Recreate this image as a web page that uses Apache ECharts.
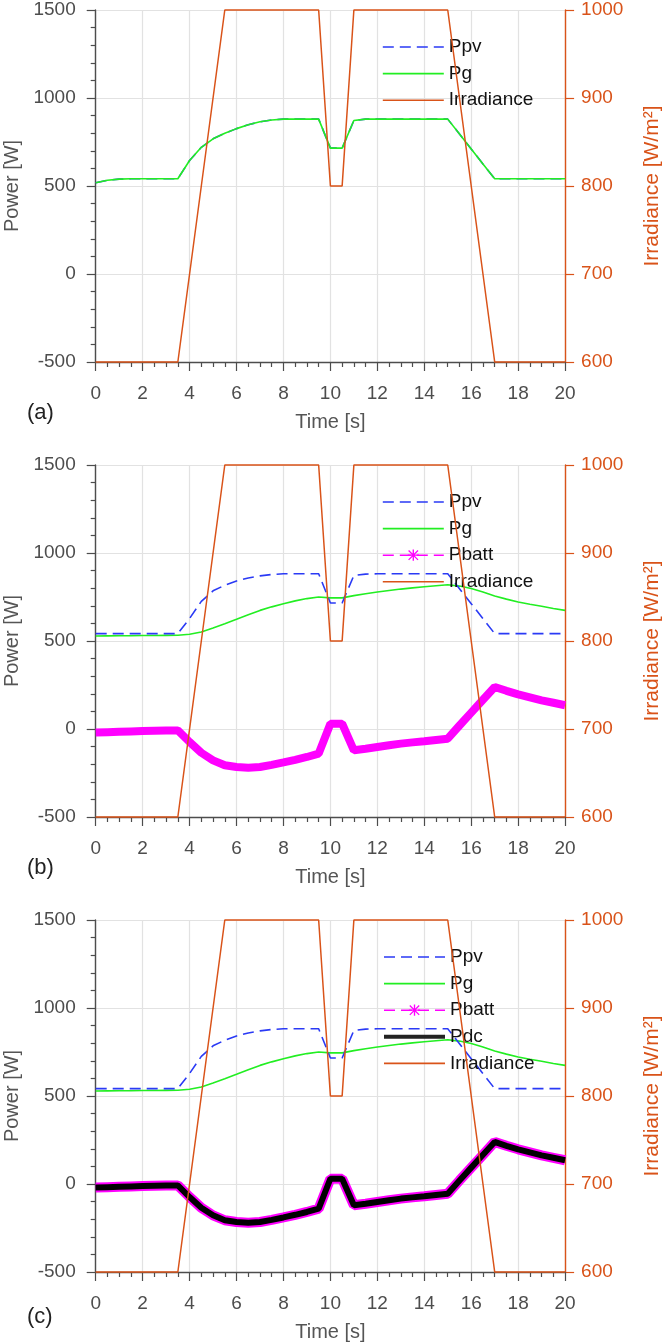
<!DOCTYPE html>
<html><head><meta charset="utf-8">
<script src="https://cdn.jsdelivr.net/npm/echarts@6/dist/echarts.min.js"></script>
<style>html,body{margin:0;padding:0;background:#fff}#c{width:669px;height:1344px}</style>
</head><body><div id="c"></div>
<script>
// ---- data ----
const time = [0,0.5,1,1.5,2,2.5,3,3.5,4,4.5,5,5.5,6,6.5,7,7.5,8,8.5,9,9.5,10,10.5,11,11.5,12,12.5,13,13.5,14,14.5,15,15.5,16,16.5,17,17.5,18,18.5,19,19.5,20];
const irradiance = [600,600,600,600,600,600,600,600,700,800,900,1000,1000,1000,1000,1000,1000,1000,1000,1000,800,800,1000,1000,1000,1000,1000,1000,1000,1000,1000,900,800,700,600,600,600,600,600,600,600];
// panel (a)
const pPvA = [518,533,539,541,541,541,541,541,645,720,768,800,826,848,865,875,880,880,880,880,715,715,872,880,880,880,880,880,880,880,880,795,710,625,541,541,541,541,541,541,541];
const pGA  = [518,533,539,541,541,541,541,541,645,720,768,800,826,848,865,875,880,880,880,880,715,715,872,880,880,880,880,880,880,880,880,795,710,625,541,541,541,541,541,541,541];
// panels (b) and (c)
const pPv  = [542,542,542,542,542,542,542,542,628,725,785,817,841,858,870,878,882,882,882,882,716,716,872,880,882,882,882,882,882,882,882,797,712,627,542,542,542,542,542,542,542];
const pG   = [528,529,530,530,531,531,532,533,538,551,574,598,623,649,674,694,712,728,741,750,745,745,758,768,778,787,795,802,808,814,820,812,798,778,756,738,722,709,697,685,674];
const pBatt= [-20,-18,-16,-14,-12,-10,-9,-8,-74,-135,-178,-206,-216,-220,-216,-204,-190,-175,-159,-140,30,30,-121,-112,-102,-92,-83,-76,-70,-62,-55,20,93,166,239,217,197,180,163,149,135];
const pDc  = [-20,-18,-16,-14,-12,-10,-9,-8,-74,-135,-178,-206,-216,-220,-216,-204,-190,-175,-159,-140,30,30,-121,-112,-102,-92,-83,-76,-70,-62,-55,20,93,166,239,217,197,180,163,149,135];
const powerTicks = [-500, 1500, 500];
const irrTicks = [600, 1000, 100];
const panelLabels = ['(a)','(b)','(c)'];

// ---- style ----
const FONT = 'Liberation Sans, Arial, sans-serif';
const ORANGE = '#D95319', BLUE = '#2a3af5', GREEN = '#22ee22', MAG = '#ff00ff', AX = '#4d4d4d';
const tops = [10, 465, 920];
const H = 352, L = 95.7, W = 469.4;
const ASTER = 'path://M4.4,0H5.6V10H4.4Z M0,4.4H10V5.6H0Z M1.2,0.4L9.6,8.8L8.8,9.6L0.4,1.2Z M8.8,0.4L9.6,1.2L1.2,9.6L0.4,8.8Z';
const plain = v => String(v);

const pairs = arr => time.map((t, i) => [t, arr[i]]);

const grid = tops.map(t => ({left: L, top: t, width: W, height: H, containLabel: false, outerBoundsMode: 'none'}));
const xAxis = tops.map((t, i) => ({
  gridIndex: i, type: 'value', min: 0, max: 20, interval: 2,
  axisLine: {onZero: false, lineStyle: {color: AX, width: 1.4}},
  axisTick: {length: 9, lineStyle: {color: AX, width: 1.2}},
  minorTick: {show: true, splitNumber: 4, length: 5, lineStyle: {color: AX, width: 1.2}},
  axisLabel: {fontSize: 19, color: '#4d4d4d', margin: 22, fontFamily: FONT, formatter: plain},
  splitLine: {show: true, lineStyle: {color: '#e2e2e2', width: 1.2}},
  name: 'Time [s]', nameLocation: 'middle', nameGap: 50,
  nameTextStyle: {fontSize: 20, color: '#555', fontFamily: FONT}
}));
const yAxis = [];
tops.forEach((t, i) => {
  yAxis.push({
    gridIndex: i, type: 'value', position: 'left', min: powerTicks[0], max: powerTicks[1], interval: powerTicks[2],
    axisLine: {show: true, onZero: false, lineStyle: {color: AX, width: 1.4}},
    axisTick: {show: true, length: 9, lineStyle: {color: AX, width: 1.2}},
    minorTick: {show: true, splitNumber: 5, length: 5, lineStyle: {color: AX, width: 1.2}},
    axisLabel: {fontSize: 19, color: '#4d4d4d', margin: 20, fontFamily: FONT, formatter: plain},
    splitLine: {show: true, lineStyle: {color: '#e2e2e2', width: 1.2}},
    name: 'Power [W]', nameLocation: 'middle', nameGap: 63,
    nameTextStyle: {fontSize: 20, color: '#555', fontFamily: FONT}
  });
  yAxis.push({
    gridIndex: i, type: 'value', position: 'right', min: irrTicks[0], max: irrTicks[1], interval: irrTicks[2],
    axisLine: {show: true, onZero: false, lineStyle: {color: ORANGE, width: 1.4}},
    axisTick: {show: true, length: 9, lineStyle: {color: ORANGE, width: 1.2}},
    axisLabel: {fontSize: 19, color: ORANGE, margin: 16, fontFamily: FONT, formatter: plain},
    splitLine: {show: false},
    name: 'Irradiance [W/m²]', nameLocation: 'middle', nameGap: 77,
    nameTextStyle: {fontSize: 21, color: ORANGE, fontFamily: FONT}
  });
});

function line(name, arr, gi, yi, color, width, type, extra) {
  return Object.assign({
    name, type: 'line', xAxisIndex: gi, yAxisIndex: yi, data: pairs(arr),
    symbol: 'none', showSymbol: false, animation: false, silent: true,
    lineStyle: {color, width, type}, itemStyle: {color}
  }, extra || {});
}
const DASH = [11, 6];
const series = [
  line('Pg', pGA, 0, 0, GREEN, 1.6, 'solid'),
  line('Ppv', pPvA, 0, 0, BLUE, 1.6, DASH, {z: 1}),
  line('Irradiance', irradiance, 0, 1, ORANGE, 1.5, 'solid', {clip: false, z: 5}),

  line('Pbatt', pBatt, 1, 2, MAG, 8, 'solid', {symbol: ASTER, symbolSize: 10}),
  line('Pg', pG, 1, 2, GREEN, 1.6, 'solid'),
  line('Ppv', pPv, 1, 2, BLUE, 1.6, DASH),
  line('Irradiance', irradiance, 1, 3, ORANGE, 1.5, 'solid', {clip: false, z: 5}),

  line('Pbatt', pBatt, 2, 4, MAG, 10, 'solid', {symbol: ASTER, symbolSize: 10}),
  line('Pdc', pDc, 2, 4, '#000000', 6, 'solid'),
  line('Pg', pG, 2, 4, GREEN, 1.6, 'solid'),
  line('Ppv', pPv, 2, 4, BLUE, 1.6, DASH),
  line('Irradiance', irradiance, 2, 5, ORANGE, 1.5, 'solid', {clip: false, z: 5})
];

const hide = {opacity: 0};
const legItems = {
  Ppv: {name: 'Ppv', itemStyle: hide, lineStyle: {width: 1.6, type: DASH}},
  Pg: {name: 'Pg', itemStyle: hide, lineStyle: {width: 1.6}},
  Pbatt: {name: 'Pbatt', itemStyle: {color: MAG}, lineStyle: {width: 1.6, type: DASH, color: MAG}},
  Pdc: {name: 'Pdc', itemStyle: hide, lineStyle: {width: 4, color: '#222'}},
  Irradiance: {name: 'Irradiance', itemStyle: hide, lineStyle: {width: 1.6}}
};
const legendNames = [['Ppv','Pg','Irradiance'], ['Ppv','Pg','Pbatt','Irradiance'], ['Ppv','Pg','Pbatt','Pdc','Irradiance']];
const legend = legendNames.map((names, i) => ({
  orient: 'vertical', left: 382, top: tops[i] + 27, padding: 0,
  itemWidth: 61, itemHeight: 14, itemGap: 6.6, selectedMode: false,
  textStyle: {fontSize: 19, color: '#111', fontFamily: FONT, lineHeight: 20},
  data: names.map(n => legItems[n])
}));
const labelTops = [402, 857, 1306];
const title = panelLabels.map((s, i) => ({
  text: s, left: 27, top: labelTops[i], padding: 0,
  textStyle: {fontSize: 22, fontWeight: 'normal', color: '#222', fontFamily: FONT}
}));

const chart = echarts.init(document.getElementById('c'), null, {renderer: 'canvas'});
chart.setOption({animation: false, backgroundColor: '#fff', textStyle: {fontFamily: FONT}, title, grid, xAxis, yAxis, legend, series});
</script>
</body></html>
